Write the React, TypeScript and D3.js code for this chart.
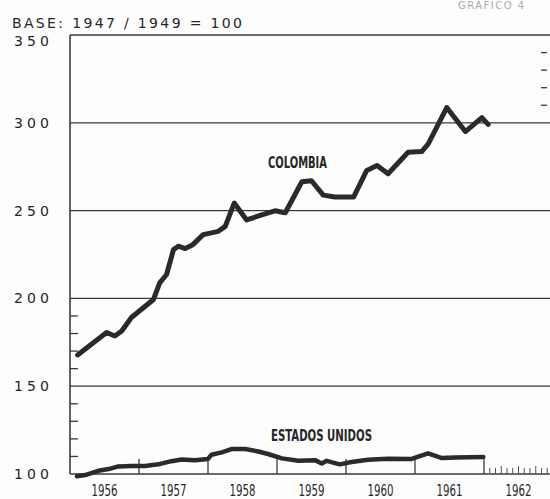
import React from "react";
import * as d3 from "d3";

const W = 550;
const H = 499;

const colTime = [1956.11, 1956.53, 1956.65, 1956.75, 1956.89, 1957.21, 1957.30, 1957.40, 1957.50, 1957.57, 1957.67, 1957.78, 1957.93, 1958.15, 1958.25, 1958.38, 1958.56, 1958.78, 1958.97, 1959.12, 1959.36, 1959.50, 1959.67, 1959.84, 1960.11, 1960.30, 1960.45, 1960.61, 1960.90, 1961.10, 1961.19, 1961.46, 1961.73, 1961.97, 1962.06];
const colValue = [167.8, 180.6, 178.6, 181.4, 189.1, 199.4, 208.9, 213.6, 227.8, 229.7, 228.4, 230.6, 236.3, 238.2, 241, 254.3, 244.7, 247.6, 249.9, 248.8, 266.4, 267, 258.8, 257.7, 257.7, 272.9, 275.7, 271, 283.2, 283.7, 287.9, 308.7, 295, 302.9, 299.1];

const usTime = [1956.10, 1956.22, 1956.41, 1956.56, 1956.70, 1956.89, 1957.09, 1957.28, 1957.47, 1957.62, 1957.81, 1958.00, 1958.05, 1958.20, 1958.34, 1958.54, 1958.73, 1958.87, 1959.07, 1959.31, 1959.55, 1959.65, 1959.72, 1959.91, 1960.08, 1960.32, 1960.61, 1960.95, 1961.19, 1961.39, 1961.58, 1961.99];
const usValue = [98.7, 99.4, 101.8, 102.8, 104.3, 104.6, 104.6, 105.5, 107.3, 108.3, 107.8, 108.6, 111, 112.3, 114.2, 114.2, 112.8, 111.4, 108.9, 107.5, 107.9, 106, 107.5, 105.5, 106.8, 108.1, 108.7, 108.6, 111.7, 109.1, 109.4, 109.7];

const years = [1956, 1957, 1958, 1959, 1960, 1961, 1962];
const yTicks = [100, 150, 200, 250, 300, 350];
const yMinorLeft = [110, 120, 130, 140, 160, 170, 180, 190];
const yMinorRight = [310, 320, 330, 340];
const baseLabel = "BASE: 1947 / 1949 = 100";
const corner = "GRAFICO  4";
const seriesLabels = ["COLOMBIA", "ESTADOS UNIDOS"];

export default function App() {
  const x = d3.scaleLinear().domain([1956, 1963]).range([70, 553]);
  const y = d3.scaleLinear().domain([100, 350]).range([474, 35]);
  const plotRight = 547;
  const ink = "#262626";

  const line = d3
    .line<[number, number]>()
    .x((d) => x(d[0]))
    .y((d) => y(d[1]))
    .curve(d3.curveLinear);

  const colPts: [number, number][] = colTime.map((t, i) => [t, colValue[i]]);
  const usPts: [number, number][] = usTime.map((t, i) => [t, usValue[i]]);

  const monthTicks = d3.range(1, 12).map((m) => 1962 + m / 12);

  const geo = "'DejaVu Sans', sans-serif";
  const narrow = "'Liberation Sans Narrow', 'DejaVu Sans Condensed', 'Liberation Sans', sans-serif";

  return (
    <svg
      width={W}
      height={H}
      viewBox={`0 0 ${W} ${H}`}
      style={{ position: "absolute", left: 0, top: 0, background: "#fdfdfd" }}
    >
      <rect x={0} y={0} width={W} height={H} fill="#fdfdfd" />
      <text x={458} y={9} fontFamily={geo} fontSize={10} fill="#aaa" textLength={66} lengthAdjust="spacing">
        {corner}
      </text>
      <text x={12} y={28} fontFamily={geo} fontSize={14} fill={ink} textLength={230} lengthAdjust="spacing">
        {baseLabel}
      </text>

      {yTicks.map((v) => (
        <line key={"g" + v} x1={x(1956)} x2={W} y1={y(v)} y2={y(v)} stroke="#3a3a3a" strokeWidth={v === 100 ? 1.6 : 1.3} />
      ))}
      <line x1={x(1956)} x2={x(1956)} y1={y(350)} y2={y(100)} stroke="#3a3a3a" strokeWidth={1.6} />

      {yMinorLeft.map((v) => (
        <line key={"ml" + v} x1={x(1956)} x2={x(1956) + 8} y1={y(v)} y2={y(v)} stroke="#3a3a3a" strokeWidth={1.3} />
      ))}
      {yMinorRight.map((v) => (
        <line key={"mr" + v} x1={plotRight - 6} x2={plotRight} y1={y(v)} y2={y(v)} stroke="#3a3a3a" strokeWidth={1.3} />
      ))}

      {yTicks.map((v) => (
        <text
          key={"yl" + v}
          x={49}
          y={y(v) + (v === 350 ? 11 : 5)}
          textAnchor="end"
          fontFamily={geo}
          fontSize={14}
          fill={ink}
          textLength={35}
          lengthAdjust="spacing"
        >
          {String(v)}
        </text>
      ))}

      {d3.range(1957, 1963).map((yr) => (
        <line key={"yt" + yr} x1={x(yr)} x2={x(yr)} y1={y(100)} y2={y(100) - 15} stroke="#3a3a3a" strokeWidth={1.3} />
      ))}
      {monthTicks.map((t, i) => (
        <line key={"mt" + i} x1={x(t)} x2={x(t)} y1={y(100)} y2={y(100) - (i % 3 === 2 ? 8 : 6)} stroke="#555" strokeWidth={1} />
      ))}

      {years.map((yr) => (
        <text
          key={"xl" + yr}
          x={x(yr + 0.5)}
          y={496}
          textAnchor="middle"
          fontFamily={narrow}
          fontSize={15}
          fill={ink}
          textLength={26}
          lengthAdjust="spacingAndGlyphs"
        >
          {String(yr)}
        </text>
      ))}

      <path d={line(usPts) || ""} fill="none" stroke="#2a2a2a" strokeWidth={4.5} strokeLinejoin="round" strokeLinecap="round" />
      <path d={line(colPts) || ""} fill="none" stroke="#2a2a2a" strokeWidth={5} strokeLinejoin="round" strokeLinecap="round" />

      <text x={268} y={168} fontFamily={narrow} fontSize={15} fontWeight="bold" fill={ink} textLength={59} lengthAdjust="spacingAndGlyphs">
        {seriesLabels[0]}
      </text>
      <text x={271} y={441} fontFamily={narrow} fontSize={15} fontWeight="bold" fill={ink} textLength={101} lengthAdjust="spacingAndGlyphs">
        {seriesLabels[1]}
      </text>
    </svg>
  );
}
